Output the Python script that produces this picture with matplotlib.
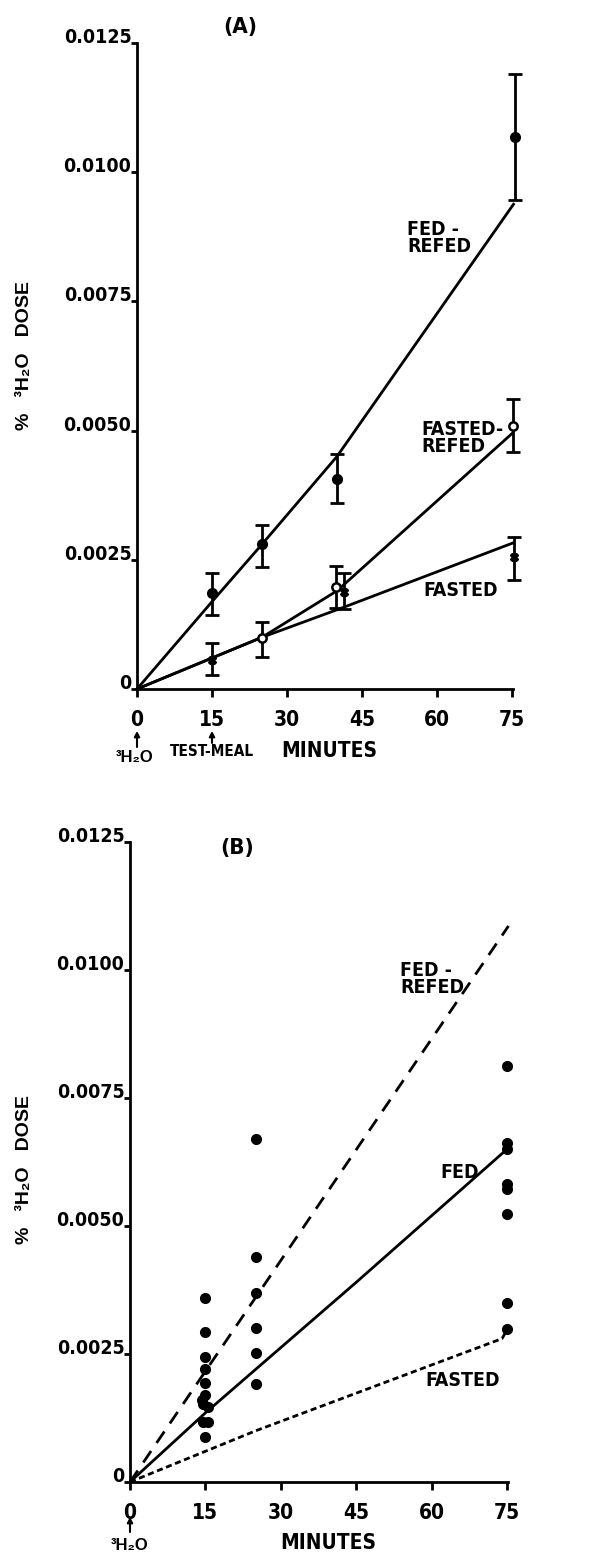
import matplotlib
matplotlib.use("Agg")
import os
import matplotlib.pyplot as plt
from matplotlib import font_manager
from matplotlib.font_manager import FontProperties

plt.rcParams["font.family"] = ["Liberation Sans", "DejaVu Sans"]
plt.rcParams["font.weight"] = "bold"

# look for an upright bold condensed face (falls back to Liberation Sans Bold)
cond_path = None
prefs = ["LiberationSansNarrow-Bold", "DejaVuSansCondensed-Bold", "RobotoCondensed-Bold",
         "OpenSans_Condensed-Bold", "OpenSansCondensed-Bold", "NotoSans-CondensedBold"]
files = font_manager.findSystemFonts()
for p in prefs:
    for f in files:
        if os.path.splitext(os.path.basename(f))[0] == p:
            cond_path = f
            break
    if cond_path:
        break


def FP(size):
    if cond_path:
        return FontProperties(fname=cond_path, size=size)
    return FontProperties(family=["Liberation Sans", "DejaVu Sans"], weight="bold", size=size)

# ---------------- data: panel A ----------------
fr_x = [15, 25, 40, 75.5]
fr_y = [0.00186, 0.00281, 0.00407, 0.01068]
fr_lo = [0.00143, 0.00236, 0.00360, 0.00946]
fr_hi = [0.00225, 0.00318, 0.00455, 0.01190]
fr_fit_x = [0, 15, 25, 40, 75.3]
fr_fit_y = [0, 0.00169, 0.00280, 0.00450, 0.00938]

fsr_x = [25, 39.8, 75.2]
fsr_y = [0.00099, 0.00198, 0.00508]
fsr_lo = [0.00062, 0.00157, 0.00459]
fsr_hi = [0.00130, 0.00238, 0.00562]
fsr_fit_x = [0, 15, 25, 40, 75.2]
fsr_fit_y = [0, 0.00060, 0.00100, 0.00190, 0.00496]

fs_x = [15, 41.3, 75.3]
fs_y = [0.00056, 0.00188, 0.00256]
fs_lo = [0.00027, 0.00155, 0.00211]
fs_hi = [0.00089, 0.00225, 0.00295]
fs_fit_x = [0, 15, 25, 41.3, 75.3]
fs_fit_y = [0, 0.00060, 0.00100, 0.00158, 0.00283]

# ---------------- data: panel B ----------------
b_x = [15, 15, 15, 15, 15, 15, 14.4, 14.6, 15.5, 14.5, 15.6, 15,
       25, 25, 25, 25, 25, 25,
       75, 75, 75, 75, 75, 75, 75, 75]
b_y = [0.00359, 0.00293, 0.00244, 0.00221, 0.00193, 0.00170, 0.00160, 0.00152, 0.00146, 0.00117, 0.00117, 0.00088,
       0.00670, 0.00439, 0.00369, 0.00301, 0.00252, 0.00191,
       0.00813, 0.00662, 0.00650, 0.00582, 0.00572, 0.00523, 0.00350, 0.00299]
bfr_x = [0, 75.3]
bfr_y = [0, 0.01086]
bfed_x = [0, 15, 25, 45, 60, 75]
bfed_y = [0, 0.00135, 0.00220, 0.00390, 0.00520, 0.00650]
bfs_x = [0, 15, 25, 74, 75.2]
bfs_y = [0, 0.00060, 0.00100, 0.00280, 0.00300]

yticks = [0, 0.0025, 0.0050, 0.0075, 0.0100, 0.0125]
ytlabels = ["0", "0.0025", "0.0050", "0.0075", "0.0100", "0.0125"]
xticks = [0, 15, 30, 45, 60, 75]
xtlabels = ["0", "15", "30", "45", "60", "75"]

W, H = 589, 1558
fig = plt.figure(figsize=(W / 100, H / 100), dpi=100)
fig.patch.set_facecolor("white")


def P(x, y):
    return (x / W, 1 - y / H)


def style(ax):
    for s in ["top", "right"]:
        ax.spines[s].set_visible(False)
    for s in ["left", "bottom"]:
        ax.spines[s].set_linewidth(2.0)
    ax.set_xlim(0, 75.2)
    ax.set_ylim(0, 0.0125)
    ax.set_xticks(xticks)
    ax.set_xticklabels(xtlabels, fontproperties=FP(15))
    ax.set_yticks(yticks)
    ax.set_yticklabels(ytlabels, fontproperties=FP(14))
    for lab in ax.get_yticklabels():
        lab.set_verticalalignment("baseline")
    ax.tick_params(axis="y", direction="out", length=4, width=2, pad=0)
    ax.tick_params(axis="x", direction="out", length=6, width=2, pad=9)
    ax.patch.set_alpha(0)


# ---------------- Panel A ----------------
axA = fig.add_axes([137 / W, 1 - 689 / H, (513 - 137) / W, (689 - 43) / H])
style(axA)
lw = 2.0
axA.plot(fr_fit_x, fr_fit_y, color="black", lw=lw, clip_on=False)
axA.plot(fsr_fit_x, fsr_fit_y, color="black", lw=lw, clip_on=False)
axA.plot(fs_fit_x, fs_fit_y, color="black", lw=lw, clip_on=False)


def eb(ax, x, y, lo, hi, **kw):
    yerr = [[yy - l for yy, l in zip(y, lo)], [h - yy for yy, h in zip(y, hi)]]
    ax.errorbar(x, y, yerr=yerr, fmt="none", ecolor="black", elinewidth=2,
                capsize=5, capthick=2, clip_on=False)
    ax.plot(x, y, linestyle="none", clip_on=False, **kw)


eb(axA, fr_x, fr_y, fr_lo, fr_hi, marker="o", ms=7, mfc="black", mec="black")
eb(axA, fsr_x, fsr_y, fsr_lo, fsr_hi, marker="o", ms=6, mfc="white", mec="black", mew=1.8)
eb(axA, fs_x, fs_y, fs_lo, fs_hi, marker="X", ms=6, mfc="black", mec="black")

fig.text(*P(240, 27), "(A)", fontproperties=FP(16), ha="center", va="center")
fig.text(*P(407, 238), "FED -\nREFED", fontproperties=FP(14), ha="left", va="center", linespacing=0.9)
fig.text(*P(421, 438), "FASTED-\nREFED", fontproperties=FP(14), ha="left", va="center", linespacing=0.9)
fig.text(*P(423, 590), "FASTED", fontproperties=FP(14), ha="left", va="center")
fig.text(*P(25, 355), "%   ³H₂O   DOSE", fontsize=14, fontweight="bold", rotation=90,
         ha="center", va="center")
fig.text(*P(329, 751), "MINUTES", fontproperties=FP(15), ha="center", va="center")
fig.text(*P(212, 752), "TEST-MEAL", fontproperties=FP(11), ha="center", va="center")
fig.text(*P(135, 758), "³H₂O", fontsize=12, fontweight="bold", ha="center", va="center")
for ax0, ay0, ay1 in [(137, 747, 731), (212, 743, 731)]:
    fig.add_artist(matplotlib.patches.FancyArrowPatch(
        P(ax0, ay0), P(ax0, ay1), transform=fig.transFigure,
        arrowstyle="-|>,head_length=3,head_width=1.6", color="black", lw=1.5,
        mutation_scale=1, shrinkA=0, shrinkB=0))

# ---------------- Panel B ----------------
axB = fig.add_axes([130 / W, 1 - 1482 / H, (508 - 130) / W, (1482 - 842) / H])
style(axB)
axB.plot(bfr_x, bfr_y, color="black", lw=2.0, dashes=(5, 3.5), clip_on=False)
axB.plot(bfed_x, bfed_y, color="black", lw=2.0, clip_on=False)
axB.plot(bfs_x, bfs_y, color="black", lw=2.0, dashes=(2.2, 1.3), clip_on=False)
axB.plot(b_x, b_y, linestyle="none", marker="o", ms=7, mfc="black", mec="black", clip_on=False)

fig.text(*P(237, 848), "(B)", fontproperties=FP(16), ha="center", va="center")
fig.text(*P(400, 979), "FED -\nREFED", fontproperties=FP(14), ha="left", va="center", linespacing=0.9)
fig.text(*P(440, 1172), "FED", fontproperties=FP(14), ha="left", va="center")
fig.text(*P(425, 1380), "FASTED", fontproperties=FP(14), ha="left", va="center")
fig.text(*P(25, 1170), "%   ³H₂O   DOSE", fontsize=14, fontweight="bold", rotation=90,
         ha="center", va="center")
fig.text(*P(328, 1543), "MINUTES", fontproperties=FP(15), ha="center", va="center")
fig.text(*P(130, 1546), "³H₂O", fontsize=12, fontweight="bold", ha="center", va="center")
fig.add_artist(matplotlib.patches.FancyArrowPatch(
    P(130, 1532), P(130, 1517), transform=fig.transFigure,
    arrowstyle="-|>,head_length=3,head_width=1.6", color="black", lw=1.5,
    mutation_scale=1, shrinkA=0, shrinkB=0))

fig.savefig("out.png", dpi=100, facecolor="white")
